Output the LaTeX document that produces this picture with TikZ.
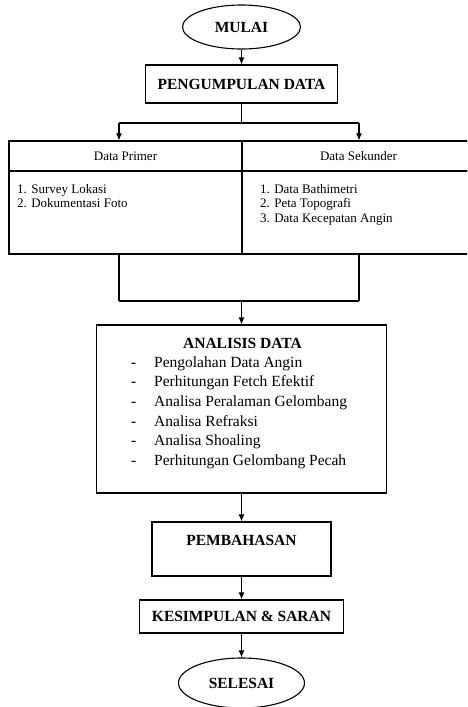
\documentclass[tikz,border=0pt]{standalone}
\usepackage{fontspec}
\setmainfont{Liberation Serif}
\usepackage{tikz}
\usetikzlibrary{arrows, arrows.meta, shapes.geometric}
\tikzset{
	kotak/.style={draw, line width=1.1pt, rectangle, inner sep=0pt},
	bulat/.style={draw, line width=1.1pt, ellipse, inner sep=0pt},
	judul/.style={font=\fontsize{15.5}{18}\selectfont\bfseries},
	isi/.style={font=\fontsize{15.5}{19.6}\selectfont},
	kecil/.style={font=\fontsize{13}{14.6}\selectfont},
	panah/.style={-{Latex[length=7pt,width=6pt]}, line width=1.1pt},
	garis/.style={-, line width=1.1pt}
}

\begin{document}
\begin{tikzpicture}[x=1pt, y=-1pt]
				\clip (0,0) rectangle (467,707);
				\node[bulat, judul, minimum width=118, minimum height=44](mulai) at (241.5,27){MULAI};
				\node[kotak, judul, minimum width=192, minimum height=38](kumpul) at (241.5,84){PENGUMPULAN DATA};
				\node[kotak, kecil, minimum width=233, minimum height=30](primer) at (125.5,156){Data Primer};
				\node[kotak, kecil, minimum width=233, minimum height=30](sekunder) at (358.5,156){Data Sekunder};
				\node[kotak, minimum width=233, minimum height=83](isiprimer) at (125.5,212.5){};
				\node[kotak, minimum width=233, minimum height=83](isisekunder) at (358.5,212.5){};
				\node[kecil, anchor=north west, align=left, inner sep=0pt](listprimer) at (17,184){1. Survey Lokasi\\2. Dokumentasi Foto};
				\node[kecil, anchor=north west, align=left, inner sep=0pt](listsekunder) at (260,184){1. Data Bathimetri\\2. Peta Topografi\\3. Data Kecepatan Angin};
				\node[kotak, minimum width=290, minimum height=168](analisis) at (241.5,409){};
				\node[judul](analisisjudul) at (242.5,343){ANALISIS DATA};
				\node[isi, anchor=north west, inner sep=0pt](analisislist) at (131,353.3){\begin{tabular}{@{}p{23pt}@{}l@{}}
					-&Pengolahan Data Angin\\
					-&Perhitungan Fetch Efektif\\
					-&Analisa Peralaman Gelombang\\
					-&Analisa Refraksi\\
					-&Analisa Shoaling\\
					-&Perhitungan Gelombang Pecah
				\end{tabular}};
				\node[kotak, minimum width=179, minimum height=54](bahas) at (241.5,549){};
				\node[judul](bahasjudul) at (241.5,540){PEMBAHASAN};
				\node[kotak, judul, minimum width=204, minimum height=33](simpul) at (241.5,616.5){KESIMPULAN \& SARAN};
				\node[bulat, judul, minimum width=126, minimum height=50](selesai) at (241.5,683){SELESAI};
				\coordinate(cabang) at (241.5,123);
				\coordinate(kiri) at (119,123);
				\coordinate(kanan) at (359,123);
				\coordinate(kiribawah) at (119,301);
				\coordinate(kananbawah) at (359,301);
				\draw[panah] (mulai.south) -- (kumpul.north);
				\draw[garis] (kumpul.south) -- (cabang);
				\draw[garis] (kiri) -- (kanan);
				\draw[panah] (kiri) -- (kiri |- primer.north);
				\draw[panah] (kanan) -- (kanan |- sekunder.north);
				\draw[garis] (kiri |- isiprimer.south) -- (kiribawah);
				\draw[garis] (kanan |- isisekunder.south) -- (kananbawah);
				\draw[garis] (kiribawah) -- (kananbawah);
				\draw[panah] (analisis.north |- kiribawah) -- (analisis.north);
				\draw[panah] (analisis.south) -- (bahas.north);
				\draw[panah] (bahas.south) -- (simpul.north);
				\draw[panah] (simpul.south) -- (selesai.north);
			\end{tikzpicture}
\end{document}
